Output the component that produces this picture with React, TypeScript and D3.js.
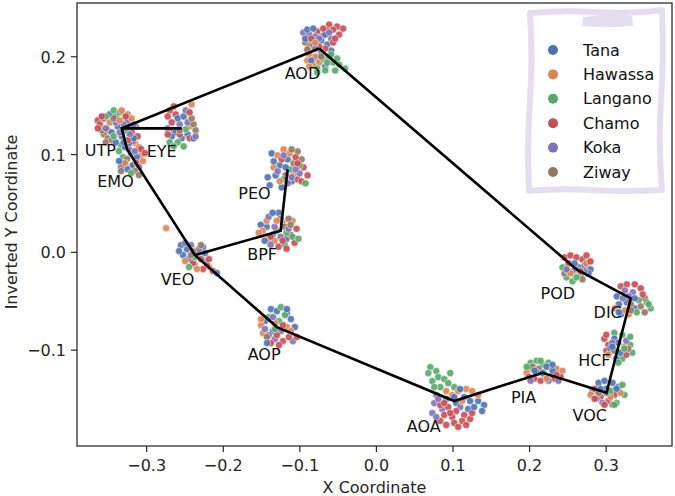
import React from "react";
import * as d3 from "d3";

const LAKES = ["Tana", "Hawassa", "Langano", "Chamo", "Koka", "Ziway"];
const LAKE_COLORS = ["#4c72b0", "#dd8452", "#55a868", "#c44e52", "#8172b3", "#937860"];

const LANDMARKS = ["AOD", "POD", "DIC", "HCF", "VOC", "PIA", "AOA", "AOP", "VEO", "EMO", "UTP", "EYE", "BPF", "PEO"];
const LM_X = [-0.0747, 0.2613, 0.3322, 0.3159, 0.3005, 0.217, 0.1016, -0.1299, -0.2369, -0.3257, -0.3326, -0.2543, -0.1251, -0.1159];
const LM_Y = [0.2084, -0.0174, -0.047, -0.0965, -0.1436, -0.1231, -0.152, -0.0764, -0.0028, 0.1056, 0.1268, 0.1268, 0.0221, 0.0849];
const LABEL_X = [-0.0966, 0.2369, 0.302, 0.2846, 0.2787, 0.1922, 0.0618, -0.1466, -0.2598, -0.3407, -0.3606, -0.2804, -0.1492, -0.1593];
const LABEL_Y = [0.1833, -0.0416, -0.061, -0.1106, -0.1664, -0.148, -0.1776, -0.1042, -0.0273, 0.0729, 0.1038, 0.1036, -0.0022, 0.0606];

const OUTLINE = ["AOD", "POD", "DIC", "HCF", "VOC", "PIA", "AOA", "AOP", "VEO", "EMO", "UTP", "AOD"];
const BRANCH_EYE = ["UTP", "EYE"];
const BRANCH_FIN = ["VEO", "BPF", "PEO"];

const X_TICKS = [-0.3, -0.2, -0.1, 0.0, 0.1, 0.2, 0.3];
const Y_TICKS = [-0.1, 0.0, 0.1, 0.2];

// data step sizes for the sample offsets below
const STEP_X = 0.0013;
const STEP_Y = 0.00102;

// sample offsets (in steps) from each landmark mean: [dx, dy, lake]
const S_AOD = [[10,24,3],[18,22,3],[24,20,3],[14,19,3],[8,18,3],[-2,17,3],[20,14,3],[-16,16,4],[-10,14,4],[-4,12,4],[4,13,4],[12,10,4],[-12,19,0],[-6,20,0],[2,8,0],[8,4,0],[-8,6,0],[12,-2,0],[-2,-10,0],[6,-18,0],[-14,6,5],[-10,2,5],[-6,4,5],[-12,-1,5],[-10,-6,1],[-4,-8,1],[-12,-12,1],[0,-14,1],[-6,-17,1],[4,-10,2],[10,-8,2],[14,-14,2],[20,-16,2],[26,-20,2],[6,-22,2],[-2,-20,2],[16,-22,2],[6,0,3],[14,6,3],[0,2,3],[2,-4,4],[-4,0,4],[-14,10,0],[-8,10,3],[0,10,4],[6,14,0],[16,10,3],[-4,6,1],[2,-8,5],[8,-14,2],[-8,-12,0],[12,-6,2],[18,-10,2],[-2,-24,2],[4,20,3],[-10,-18,1],[10,16,4]];
const S_UTP = [[-24,8,3],[-22,4,3],[-18,10,3],[-14,-2,3],[10,-4,3],[14,2,3],[16,-8,3],[-18,-6,5],[-14,-10,5],[-10,-12,5],[-20,-2,5],[-12,14,0],[-6,12,0],[-4,2,0],[-10,-4,0],[6,8,0],[0,-8,0],[12,-10,0],[-6,-14,0],[-8,18,2],[-2,16,2],[-16,12,2],[4,-2,2],[0,18,1],[6,14,1],[-12,6,1],[10,10,1],[-6,6,4],[2,4,4],[-16,0,4],[8,-6,4],[-20,12,3],[-8,10,5],[-2,8,1],[4,12,3],[8,2,0],[-2,-4,4],[6,-12,3],[-8,-8,2],[-16,-14,5],[2,-14,0],[12,4,4],[-24,0,3]];
const S_EYE = [[-12,18,3],[-8,22,3],[-14,12,3],[-6,14,3],[-10,6,3],[10,24,1],[8,2,1],[-14,0,4],[-8,-2,4],[-2,4,4],[6,6,4],[12,4,5],[14,-2,5],[10,10,5],[-4,10,0],[2,12,0],[-6,-4,0],[6,-6,0],[0,-10,0],[-10,-8,0],[4,-1,2],[-4,-14,2],[2,-18,2],[-12,-14,2],[8,-10,3],[-2,-6,3],[-14,-6,3],[12,-10,0],[4,18,4],[-2,-2,5],[8,16,3],[14,-8,4],[-8,-18,2]];
const S_EMO = [[-6,4,2],[-8,-2,2],[-4,-8,2],[8,6,1],[12,2,1],[14,-6,1],[4,-18,1],[-2,2,0],[4,-4,0],[10,-8,0],[-4,-14,0],[6,-16,0],[0,-20,0],[14,0,3],[10,-14,3],[18,-4,3],[6,8,3],[2,0,4],[-6,-18,4],[12,-18,4],[-6,-22,5],[0,-10,5],[8,-22,5],[2,6,0],[-2,-14,1],[8,-2,4],[16,-12,1],[4,-24,2],[-8,-12,0],[12,-26,5]];
const S_PEO = [[-16,16,0],[-8,4,0],[-12,-6,0],[4,-12,0],[-6,-18,0],[0,10,0],[-18,-16,0],[-10,14,1],[-4,20,1],[2,16,1],[-14,2,1],[6,-4,1],[10,18,5],[14,10,5],[6,6,5],[-6,10,3],[10,-10,3],[16,2,3],[20,-6,3],[-2,-6,3],[8,12,3],[2,0,2],[12,4,2],[-4,-10,2],[4,-8,4],[-10,-2,4],[12,-4,4],[0,-14,4],[-2,2,0],[8,0,4],[-8,-12,1],[14,-12,3],[-14,8,0],[4,20,5],[-20,-8,0],[10,6,3],[-4,14,4],[18,-14,2]];
const S_BPF = [[-2,18,0],[-14,4,0],[-8,-4,0],[6,-8,0],[-20,6,0],[-18,0,1],[-12,-8,1],[-14,10,1],[2,8,1],[-6,-10,1],[12,10,1],[0,12,5],[8,12,5],[4,4,5],[-10,-6,3],[10,-4,3],[14,-12,3],[-2,-16,3],[16,2,3],[6,-2,2],[4,-14,2],[12,-6,2],[-4,0,2],[-6,4,4],[0,-6,4],[8,2,4],[-10,-14,4],[-16,-10,0],[-4,10,1],[10,6,5],[2,-10,3],[-12,14,4],[18,-8,2],[-22,-2,1],[6,-18,3],[-8,18,0]];
const S_VEO = [[-29,27,1],[-14,10,0],[-8,6,0],[-12,0,0],[-6,-4,0],[2,2,0],[8,8,0],[-4,10,4],[4,6,4],[10,-6,4],[6,10,5],[-2,4,5],[-10,-6,1],[0,-10,1],[14,-12,1],[-2,-8,3],[6,-4,3],[12,-10,3],[18,-16,3],[8,-14,3],[0,-2,2],[-6,-12,2],[-16,4,0],[-10,12,4],[2,-14,1],[14,-4,3],[-4,0,5],[10,2,0],[22,-18,0]];
const S_AOP = [[-6,18,0],[0,16,0],[-12,6,0],[10,14,0],[14,8,0],[18,0,0],[-4,-4,0],[4,20,2],[8,12,2],[2,6,2],[-8,10,2],[-16,2,1],[-2,4,1],[-14,-6,1],[10,0,1],[-12,-2,4],[-8,-8,4],[-2,-12,4],[16,-14,4],[4,-4,4],[0,-8,3],[6,-14,3],[12,-10,3],[-6,-16,3],[20,-10,3],[-10,-10,5],[-4,10,4],[6,2,3],[-10,-16,0],[14,-4,1],[-16,8,1],[2,-18,3],[10,18,0],[-2,-2,2]];
const S_AOA = [[-24,34,2],[-18,30,2],[-26,28,2],[-16,24,2],[-22,20,2],[-10,22,2],[-6,18,2],[-14,14,2],[0,14,2],[-8,10,1],[4,10,1],[12,12,1],[-2,6,1],[18,10,1],[6,12,0],[10,4,0],[16,0,0],[24,0,0],[30,-4,0],[-8,2,0],[2,-2,0],[14,-8,0],[-18,6,4],[-20,-2,4],[-12,-8,4],[-22,-12,4],[6,-6,4],[-14,-4,3],[-6,-6,3],[2,-10,3],[10,-14,3],[-10,-14,3],[-2,-16,3],[8,-20,3],[-14,-20,3],[0,-22,3],[16,-18,3],[18,-12,3],[-20,14,2],[-4,-12,3],[8,0,1],[-16,2,4],[20,-6,0],[4,-26,3],[-8,-24,3],[12,-24,3],[-4,28,2],[24,6,1],[0,4,0],[-10,-2,3],[28,-10,0],[-18,-16,4]];
const S_PIA = [[-12,10,2],[-6,12,2],[-14,4,2],[0,8,2],[6,10,2],[-10,6,5],[-4,4,5],[14,4,1],[20,2,1],[-16,0,1],[8,-4,1],[-14,-4,3],[-8,-6,3],[2,-2,3],[12,-6,3],[18,-4,3],[-2,-8,3],[4,6,0],[10,2,0],[0,0,0],[-6,0,0],[-12,-8,4],[6,-8,4],[-8,2,0],[14,-2,3],[4,-6,1],[-2,12,2],[10,8,0],[-16,6,2],[16,-8,4]];
const S_VOC = [[-8,10,0],[-2,12,0],[6,10,0],[12,6,0],[-14,2,0],[0,4,0],[16,8,2],[18,-2,2],[10,-10,2],[-12,4,3],[-6,-4,3],[8,-2,3],[2,-8,3],[-16,-2,1],[4,-4,1],[14,0,1],[-10,-6,4],[-4,-10,4],[0,0,4],[-8,0,5],[6,-12,5],[-6,4,0],[4,2,2],[-12,-6,3],[10,4,0],[8,-12,2],[-2,-12,3]];
const S_HCF = [[-4,14,2],[4,12,2],[12,2,2],[14,-6,2],[4,-12,2],[-14,8,3],[-10,2,3],[-12,-4,3],[8,-8,3],[-4,8,0],[0,4,0],[-8,-2,0],[2,-6,0],[-2,-12,0],[-10,-8,1],[6,0,1],[-6,4,4],[8,6,4],[10,-2,5],[-4,-4,5],[-12,12,3],[6,-2,2],[-6,0,0],[0,-16,2],[12,10,2]];
const S_DIC = [[-10,12,3],[-4,14,3],[4,14,3],[10,10,3],[14,0,3],[-6,8,4],[2,6,4],[-2,2,4],[-14,2,0],[-12,-6,0],[-4,-4,0],[4,-10,0],[-10,-16,0],[8,-2,2],[16,-4,2],[20,-10,2],[6,-14,2],[10,-8,5],[14,-14,5],[0,-6,5],[-6,-12,1],[-2,-16,1],[-16,-10,1],[-8,0,4],[4,0,0],[12,4,3],[-12,-14,0],[18,-6,2],[0,-12,5]];
const S_POD = [[-12,12,3],[-6,14,3],[0,12,3],[6,10,3],[10,14,3],[-8,6,3],[8,4,0],[14,0,0],[2,2,0],[12,-4,0],[0,0,4],[8,-2,4],[-4,-2,4],[-14,2,2],[-10,-8,2],[-4,-12,2],[4,-6,2],[-12,-4,5],[6,-10,5],[-8,-2,5],[-6,-4,1],[10,6,1],[-2,6,0],[4,-2,3],[-10,0,4],[0,-8,2],[14,8,3]];

const SAMPLE_SETS = [S_AOD, S_POD, S_DIC, S_HCF, S_VOC, S_PIA, S_AOA, S_AOP, S_VEO, S_EMO, S_UTP, S_EYE, S_BPF, S_PEO];

const W = 675;
const H = 496;
const FONT = "'DejaVu Sans', sans-serif";

export default function App() {
  const x = d3.scaleLinear().domain([-0.391, 0.386]).range([77, 672]);
  const y = d3.scaleLinear().domain([-0.198, 0.255]).range([446, 3]);
  const fmt = d3.format(".1f");
  const idx = (n: string) => LANDMARKS.indexOf(n);
  const line = d3
    .line<string>()
    .x((n) => x(LM_X[idx(n)]))
    .y((n) => y(LM_Y[idx(n)]));

  const points: { px: number; py: number; c: number; k: string }[] = [];
  SAMPLE_SETS.forEach((set, li) => {
    set.forEach((s, si) => {
      points.push({
        px: x(LM_X[li] + s[0] * STEP_X),
        py: y(LM_Y[li] + s[1] * STEP_Y),
        c: s[2],
        k: `${li}-${si}`,
      });
    });
  });

  const legendFrame =
    "M530,13 Q560,10 596,12 T662,10 Q664,60 661,100 T662,190 Q620,192 590,190 T529,191 Q527,140 530,100 T530,13 Z";

  return (
    <svg
      width={W}
      height={H}
      style={{ position: "absolute", left: 0, top: 0, background: "#fff" }}
      fontFamily={FONT}
    >
      <g>
        {points.map((p) => (
          <circle
            key={p.k}
            cx={p.px}
            cy={p.py}
            r={3.6}
            fill={LAKE_COLORS[p.c]}
            fillOpacity={0.9}
            stroke="#fff"
            strokeWidth={0.5}
          />
        ))}
      </g>
      <g fill="none" stroke="#000" strokeWidth={2.6} strokeLinejoin="miter">
        <path d={line(OUTLINE) || ""} />
        <path d={line(BRANCH_EYE) || ""} />
        <path d={line(BRANCH_FIN) || ""} />
      </g>
      <g fontSize={16} fill="#111" textAnchor="middle" dominantBaseline="central">
        {LANDMARKS.map((n, i) => (
          <text key={n} x={x(LABEL_X[i])} y={y(LABEL_Y[i])}>
            {n}
          </text>
        ))}
      </g>
      <rect x={77} y={3} width={595} height={443} fill="none" stroke="#262626" strokeWidth={1.25} />
      <g fontSize={16} fill="#262626">
        {X_TICKS.map((t) => (
          <g key={t}>
            <line x1={x(t)} x2={x(t)} y1={446} y2={452} stroke="#262626" strokeWidth={1.2} />
            <text x={x(t)} y={471} textAnchor="middle">
              {fmt(t)}
            </text>
          </g>
        ))}
        <text x={374.5} y={493} textAnchor="middle">
          X Coordinate
        </text>
      </g>
      <g fontSize={16} fill="#262626">
        {Y_TICKS.map((t) => (
          <g key={t}>
            <line x1={71} x2={77} y1={y(t)} y2={y(t)} stroke="#262626" strokeWidth={1.2} />
            <text x={66} y={y(t) + 6} textAnchor="end">
              {fmt(t)}
            </text>
          </g>
        ))}
        <text transform={`translate(16.5,222) rotate(-90)`} textAnchor="middle">
          Inverted Y Coordinate
        </text>
      </g>
      <g>
        <path d={legendFrame} fill="#fff" fillOpacity={0.8} stroke="#e4dfee" strokeWidth={6} strokeLinejoin="round" />
        <path d="M583,17 Q608,13 632,16 L633,26 Q608,28 582,26 Z" fill="#e4dfee" />
        {LAKES.map((l, i) => (
          <g key={l} transform={`translate(0, ${50 + i * 24.4})`}>
            <circle cx={553} cy={0} r={5} fill={LAKE_COLORS[i]} />
            <text x={583} y={0} fontSize={16} fill="#111" dominantBaseline="central">
              {l}
            </text>
          </g>
        ))}
      </g>
    </svg>
  );
}
